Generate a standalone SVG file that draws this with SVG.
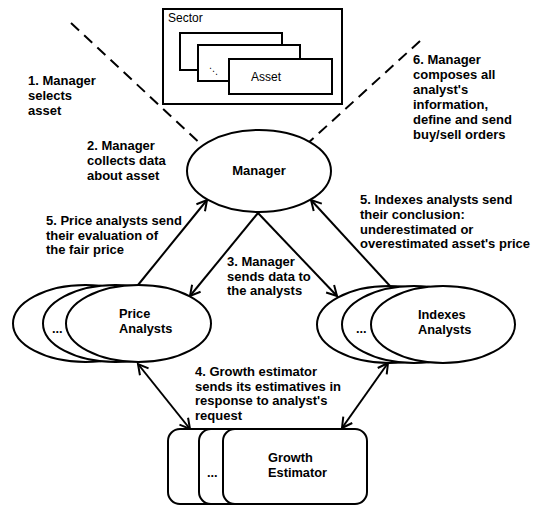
<svg xmlns="http://www.w3.org/2000/svg" width="535" height="506" viewBox="0 0 535 506">
<style>
.s{fill:#fff;stroke:#000;stroke-width:2}
.d{fill:none;stroke:#000;stroke-width:2;stroke-dasharray:11,7}
.c{fill:none;stroke:#000;stroke-width:2}
.t{font-family:"Liberation Sans",Arial,sans-serif;font-size:13px;font-weight:bold;fill:#000}
.l{font-family:"Liberation Sans",Arial,sans-serif;font-size:12.8px;font-weight:bold;fill:#000}
.sm{font-family:"Liberation Sans",Arial,sans-serif;font-size:12px;fill:#000}
</style>
<defs>
<marker id="ah" viewBox="-12 -7 14 14" refX="0" refY="0" markerWidth="14" markerHeight="14" markerUnits="userSpaceOnUse" orient="auto-start-reverse">
<path d="M-10,-5.5 L0,0 L-10,5.5" fill="none" stroke="#000" stroke-width="2"/>
</marker>
</defs>
<rect width="535" height="506" fill="#fff"/>
<g id="connectors">
<line class="d" x1="71" y1="23" x2="204" y2="147"/>
<line class="d" x1="420" y1="41" x2="307" y2="144"/>
<line class="c" x1="138" y1="285" x2="207" y2="200" marker-end="url(#ah)"/>
<line class="c" x1="258" y1="213" x2="190" y2="296" marker-end="url(#ah)"/>
<line class="c" x1="258" y1="213" x2="337" y2="296" marker-end="url(#ah)"/>
<line class="c" x1="390" y1="286" x2="311" y2="200" marker-end="url(#ah)"/>
<line class="c" x1="190" y1="429" x2="138" y2="364" marker-start="url(#ah)" marker-end="url(#ah)"/>
<line class="c" x1="342" y1="428" x2="388" y2="363" marker-start="url(#ah)" marker-end="url(#ah)"/>
</g>
<g id="sector">
<rect class="s" x="163" y="9" width="179" height="95"/>
<text class="sm" x="168" y="22">Sector</text>
<rect class="s" x="180" y="33" width="102" height="37"/>
<rect class="s" x="198" y="45" width="102" height="36"/>
<text x="209" y="74" style="font-family:'DejaVu Sans',sans-serif;font-size:9px">⋱</text>
<g id="asset">
<rect class="s" x="229" y="59" width="103" height="35"/>
<text class="sm" x="251" y="81">Asset</text>
</g>
</g>
<g id="manager">
<ellipse class="s" cx="259" cy="171" rx="72" ry="41"/>
<text class="t" x="259" y="175" text-anchor="middle">Manager</text>
</g>
<g id="price-analysts">
<ellipse class="s" cx="85.5" cy="323.5" rx="72.5" ry="38.5"/>
<ellipse class="s" cx="115.5" cy="323.5" rx="72.5" ry="38.5"/>
<text class="l" x="52" y="333">...</text>
<ellipse class="s" cx="138.5" cy="323.5" rx="72.5" ry="38.5"/>
<text class="l" x="119" y="318">Price</text>
<text class="l" x="119" y="333">Analysts</text>
</g>
<g id="indexes-analysts">
<ellipse class="s" cx="389" cy="324.5" rx="72" ry="38.5"/>
<ellipse class="s" cx="414" cy="324.5" rx="72" ry="38.5"/>
<text class="l" x="356" y="333">...</text>
<ellipse class="s" cx="443" cy="324.5" rx="72" ry="38.5"/>
<text class="l" x="418" y="319">Indexes</text>
<text class="l" x="418" y="334">Analysts</text>
</g>
<g id="growth-estimator">
<rect class="s" x="168" y="429" width="144" height="75" rx="12"/>
<rect class="s" x="199" y="429" width="144" height="75" rx="12"/>
<text class="l" x="207" y="477">...</text>
<rect class="s" x="223" y="429" width="144" height="75" rx="12"/>
<text class="l" x="268" y="462">Growth</text>
<text class="l" x="268" y="477">Estimator</text>
</g>
<g id="labels">
<text class="t" x="28" y="85">1. Manager</text>
<text class="t" x="28" y="100">selects</text>
<text class="t" x="28" y="115">asset</text>
<text class="t" x="87" y="150">2. Manager</text>
<text class="t" x="87" y="165">collects data</text>
<text class="t" x="87" y="180">about asset</text>
<text class="t" x="46" y="225">5. Price analysts send</text>
<text class="t" x="46" y="239.5">their evaluation of</text>
<text class="t" x="46" y="254">the fair price</text>
<text class="t" x="227" y="266">3. Manager</text>
<text class="t" x="227" y="281">sends data to</text>
<text class="t" x="227" y="295">the analysts</text>
<text class="t" x="195" y="376">4. Growth estimator</text>
<text class="t" x="195" y="390.5">sends its estimatives in</text>
<text class="t" x="195" y="405">response to analyst's</text>
<text class="t" x="195" y="419.5">request</text>
<text class="t" x="413" y="64">6. Manager</text>
<text class="t" x="413" y="79">composes all</text>
<text class="t" x="413" y="94">analyst's</text>
<text class="t" x="413" y="109">information,</text>
<text class="t" x="413" y="124">define and send</text>
<text class="t" x="413" y="139">buy/sell orders</text>
<text class="t" x="360" y="204">5. Indexes analysts send</text>
<text class="t" x="360" y="219">their conclusion:</text>
<text class="t" x="360" y="233.5">underestimated or</text>
<text class="t" x="360" y="248">overestimated asset's price</text>
</g>
</svg>
